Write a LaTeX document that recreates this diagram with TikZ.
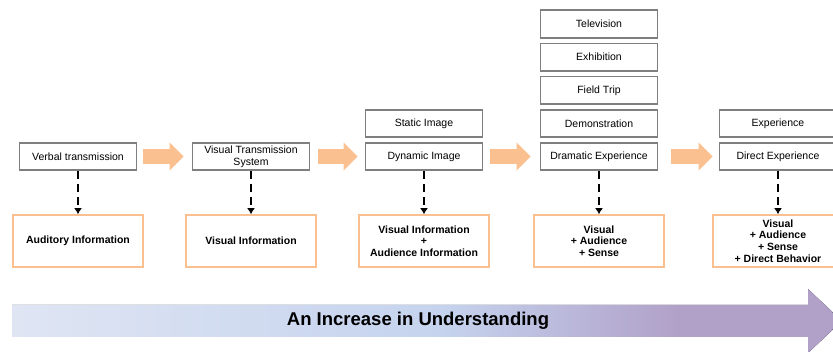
\documentclass[tikz,border=0pt]{standalone}
\usepackage{fontspec}
\setmainfont{Liberation Sans}
\usetikzlibrary{arrows.meta,positioning,calc}
\definecolor{boxgray}{HTML}{7F7F7F}
\definecolor{peach}{HTML}{FAC090}
\definecolor{barleft}{HTML}{DFE5F3}
\definecolor{barmid}{HTML}{C5D3EE}
\definecolor{barright}{HTML}{B1A1C9}
\pgfdeclarehorizontalshading{understand}{100bp}{color(0bp)=(barleft);
  color(25bp)=(barleft); color(51bp)=(barmid); color(65bp)=(barright);
  color(100bp)=(barright)}

\begin{document}
\begin{tikzpicture}[
    x=1pt, y=-1pt,
    node distance=3.8pt,
    every node/.style={font=\fontsize{10.5}{11.7}\selectfont},
    media/.style={rectangle, draw=boxgray, line width=1.8pt, fill=white,
                  minimum width=117pt, minimum height=27.5pt, align=center,
                  inner sep=1pt},
    info/.style={rectangle, draw=peach, line width=1.6pt, fill=white,
                 minimum width=130pt, minimum height=52pt, align=center,
                 inner sep=1pt, font=\fontsize{10.5}{11.7}\selectfont\bfseries},
    stepto/.style={line width=15pt, draw=peach,
                   -{Triangle[length=14pt, width=27pt]}},
    dasharr/.style={line width=2.4pt, dash pattern=on 8pt off 5pt,
                    -{Latex[length=6pt, width=8pt]}},
]
\useasboundingbox (0,0) rectangle (833,352);

% Row 1: media, left to right
\node[media] (verbal)   at (78,156.5)  {Verbal transmission};
\node[media] (visual)   at (251,156.5) {Visual Transmission\\System};
\node[media] (dynamic)  at (424,156.5) {Dynamic Image};
\node[media] (dramatic) at (599,156.5) {Dramatic Experience};
\node[media] (direct)   at (778,156.5) {Direct Experience};

% Stacked media
\node[media, above=of dynamic]  (static) {Static Image};
\node[media, above=of dramatic] (demo)   {Demonstration};
\node[media, above=of demo]     (field)  {Field Trip};
\node[media, above=of field]    (exhib)  {Exhibition};
\node[media, above=of exhib]    (tv)     {Television};
\node[media, above=of direct]   (exper)  {Experience};

% Row 2: information gained
\node[info] (auditory) at (78,241)  {Auditory Information};
\node[info] (visinfo)  at (251,241) {Visual Information};
\node[info] (visaud)   at (424,241) {Visual Information\\+\\Audience Information};
\node[info] (sense)    at (599,241) {Visual\\+ Audience\\+ Sense};
\node[info] (behavior) at (778,241) {Visual\\+ Audience\\+ Sense\\+ Direct Behavior};

% Arrows between media
\draw[stepto] ($(verbal.east)+(6,0)$)   -- ($(visual.west)+(-8,0)$);
\draw[stepto] ($(visual.east)+(8,0)$)   -- ($(dynamic.west)+(-7,0)$);
\draw[stepto] ($(dynamic.east)+(7,0)$)  -- ($(dramatic.west)+(-9,0)$);
\draw[stepto] ($(dramatic.east)+(13,0)$) -- ($(direct.west)+(-6,0)$);

% Dashed arrows down
\draw[dasharr] (verbal)   -- (auditory);
\draw[dasharr] (visual)   -- (visinfo);
\draw[dasharr] (dynamic)  -- (visaud);
\draw[dasharr] (dramatic) -- (sense);
\draw[dasharr] (direct)   -- (behavior);

% Bottom bar
\fill[shading=understand]
  (12,305) -- (808,305) -- (808,289) -- (842,321) -- (808,353)
  -- (808,337) -- (12,337) -- cycle;
\node[font=\fontsize{18.5}{20}\selectfont\bfseries] (gain) at (418,321)
  {An Increase in Understanding};

\end{tikzpicture}
\end{document}
